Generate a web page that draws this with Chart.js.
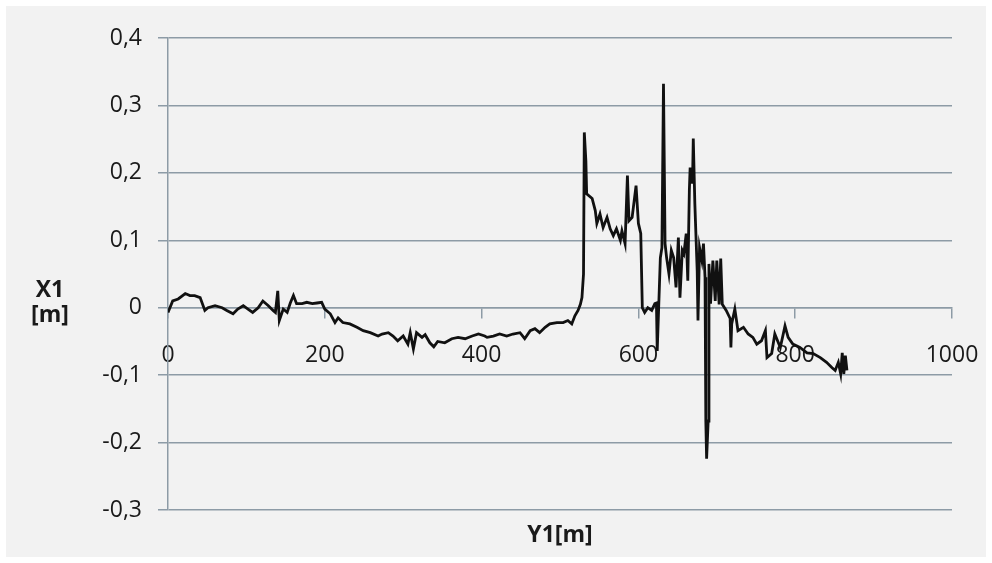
<!DOCTYPE html>
<html>
<head>
<meta charset="utf-8">
<script src="https://cdn.jsdelivr.net/npm/chart.js@4/dist/chart.umd.min.js"></script>
<style>
  html, body { margin: 0; padding: 0; background: #ffffff; }
  #wrap { width: 992px; height: 563px; }
</style>
</head>
<body>
<div id="wrap"><canvas id="track" width="992" height="563"></canvas></div>
<script>
// Y1 [m] along the track (x axis)
const y1Values = [
    0, 6, 13, 22, 28, 34, 41, 47, 51, 60, 69, 75, 83, 89, 96, 102, 108, 115, 121, 128,
    134, 137, 140, 142, 147, 152, 156, 160, 164, 171, 177, 184, 190, 196, 200, 207, 213, 217, 223, 232,
    241, 249, 258, 268, 273, 281, 287, 293, 300, 306, 309, 313, 317, 324, 328, 334, 339, 344, 353, 362,
    370, 379, 388, 396, 404, 407, 415, 423, 432, 440, 449, 455, 462, 468, 474, 481, 487, 496, 504, 510,
    515, 519, 523, 526, 528, 530, 531, 533, 534, 541, 545, 547, 551, 555, 560, 564, 568, 572, 577, 579,
    583, 586, 588, 592, 597, 600, 603, 605, 608, 612, 617, 621, 623, 624, 628, 630, 632, 634, 636, 639,
    642, 645, 648, 651, 653, 656, 658, 661, 663, 665, 666, 669, 670, 672, 675, 676, 678, 681, 683, 685,
    686, 687, 689, 690, 692, 695, 698, 700, 703, 705, 707, 712, 717, 718, 719, 723, 727, 734, 740, 746,
    751, 757, 762, 764, 770, 774, 781, 787, 791, 797, 806, 815, 823, 832, 840, 847, 851, 855, 858, 860,
    862, 864, 866
];

// X1 [m] deviation (y axis)
const x1Values = [
    -0.007, 0.010, 0.013, 0.021, 0.018, 0.018, 0.015, -0.004, 0.000, 0.003, 0.000, -0.004, -0.009, -0.002, 0.003, -0.002, -0.007, 0.000, 0.010, 0.003,
    -0.004, -0.007, 0.025, -0.019, -0.002, -0.007, 0.007, 0.018, 0.006, 0.006, 0.008, 0.006, 0.007, 0.008, -0.002, -0.009, -0.022, -0.015, -0.022, -0.024,
    -0.029, -0.034, -0.037, -0.042, -0.039, -0.037, -0.042, -0.049, -0.042, -0.054, -0.037, -0.061, -0.037, -0.044, -0.040, -0.052, -0.058, -0.050, -0.052, -0.046,
    -0.044, -0.046, -0.042, -0.039, -0.042, -0.044, -0.042, -0.039, -0.042, -0.039, -0.037, -0.046, -0.034, -0.031, -0.037, -0.029, -0.024, -0.022, -0.022, -0.019,
    -0.024, -0.012, -0.004, 0.005, 0.015, 0.050, 0.260, 0.218, 0.169, 0.162, 0.144, 0.125, 0.139, 0.119, 0.134, 0.117, 0.107, 0.117, 0.100, 0.114,
    0.095, 0.196, 0.129, 0.134, 0.181, 0.125, 0.110, 0.000, -0.007, 0.000, -0.004, 0.006, 0.007, -0.064, 0.074, 0.089, 0.332, 0.095, 0.074, 0.050,
    0.085, 0.074, 0.030, 0.104, 0.015, 0.085, 0.080, 0.110, 0.040, 0.174, 0.208, 0.184, 0.251, 0.154, 0.055, -0.019, 0.089, 0.070, 0.095, 0.045,
    -0.168, -0.224, -0.168, 0.065, 0.006, 0.070, 0.010, 0.070, 0.005, 0.073, 0.005, -0.004, -0.016, -0.059, -0.024, -0.002, -0.034, -0.029, -0.039, -0.044,
    -0.054, -0.049, -0.034, -0.074, -0.068, -0.039, -0.059, -0.027, -0.044, -0.054, -0.059, -0.067, -0.068, -0.074, -0.081, -0.089, -0.093, -0.081, -0.098, -0.067,
    -0.098, -0.071, -0.093
];

const xTicks = [0, 200, 400, 600, 800, 1000];
const yTicks = [-0.3, -0.2, -0.1, 0, 0.1, 0.2, 0.3, 0.4];

const gridColor = '#8d9ba6';
const textColor = '#1a1a1a';

const points = y1Values.map((v, i) => ({ x: v, y: x1Values[i] }));

// grey panel behind the chart, plus the two horizontal axis titles
const panel = {
    id: 'panel',
    beforeDraw(chart) {
        const c = chart.ctx;
        c.save();
        c.fillStyle = '#ffffff';
        c.fillRect(0, 0, chart.width, chart.height);
        c.fillStyle = '#f2f2f2';
        c.fillRect(6, 6, chart.width - 12, chart.height - 12);
        c.restore();
    },
    afterDraw(chart) {
        const c = chart.ctx;
        const a = chart.chartArea;
        c.save();
        c.fillStyle = textColor;
        c.font = 'bold 23px "Open Sans"';
        c.textAlign = 'center';
        c.textBaseline = 'middle';
        c.fillText('Y1[m]', (a.left + a.right) / 2, 535);
        c.fillText('X1', 50, 290);
        c.fillText('[m]', 50, 315);
        c.restore();
    }
};

new Chart(document.getElementById('track'), {
    type: 'scatter',
    data: {
        datasets: [{
            data: points,
            showLine: true,
            borderColor: '#111111',
            borderWidth: 2.8,
            pointRadius: 0,
            tension: 0
        }]
    },
    options: {
        responsive: false,
        animation: false,
        layout: {
            padding: { left: 0, right: 40, top: 38, bottom: 53 }
        },
        plugins: {
            legend: { display: false },
            tooltip: { enabled: false }
        },
        scales: {
            x: {
                type: 'linear',
                position: { y: 0 },
                min: 0,
                max: 1000,
                afterBuildTicks: (scale) => { scale.ticks = xTicks.map(v => ({ value: v })); },
                afterFit: (scale) => { scale.paddingLeft = 0; scale.paddingRight = 0; },
                grid: { drawOnChartArea: false, drawTicks: true, tickLength: 10, color: gridColor, lineWidth: 1.5 },
                border: { display: true, color: gridColor, width: 1.5 },
                ticks: {
                    color: textColor,
                    font: { family: 'Open Sans', size: 23 },
                    padding: 24,
                    maxRotation: 0,
                    callback: (v) => String(v)
                }
            },
            y: {
                type: 'linear',
                min: -0.3,
                max: 0.4,
                afterBuildTicks: (scale) => { scale.ticks = yTicks.map(v => ({ value: v })); },
                afterFit: (scale) => { scale.width = 168; },
                grid: { drawTicks: true, tickLength: 10, color: gridColor, lineWidth: 1.5 },
                border: { display: true, color: gridColor, width: 1.5 },
                ticks: {
                    color: textColor,
                    font: { family: 'Open Sans', size: 23 },
                    padding: 16,
                    callback: (v) => Math.abs(v) < 1e-9 ? '0' : v.toFixed(1).replace('.', ',')
                }
            }
        }
    },
    plugins: [panel]
});
</script>
</body>
</html>
